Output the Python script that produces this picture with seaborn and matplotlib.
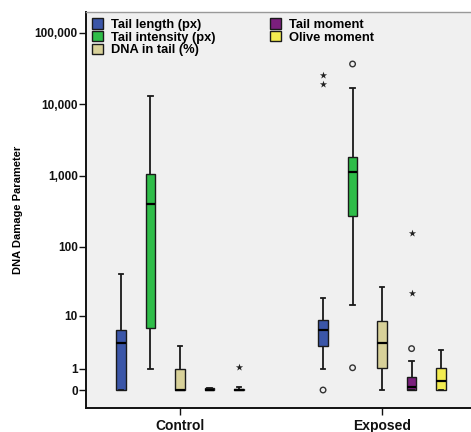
import numpy as np
import pandas as pd
import matplotlib
matplotlib.use("Agg")
import matplotlib.pyplot as plt
import seaborn as sns
from matplotlib.font_manager import FontProperties

plt.rcParams['font.family'] = ['Liberation Sans', 'DejaVu Sans']

groups = ["Control", "Exposed"]
params = ["Tail length (px)", "Tail intensity (px)", "DNA in tail (%)", "Tail moment", "Olive moment"]
colors = ["#3b56a8", "#2fbd49", "#d8d199", "#7b1f7d", "#f3ec50"]

# five-number summaries (whisker low, Q1, median, Q3, whisker high)
control_low = [0, 1.0, 0, 0, 0]
control_q1 = [0, 6.4, 0, 0, 0]
control_median = [3.6, 400, 0, 0, 0]
control_q3 = [5.9, 1060, 1.0, 0.05, 0.03]
control_high = [41, 13200, 3.1, 0.05, 0.1]

exposed_low = [1.0, 14.5, 0, 0, 0]
exposed_q1 = [3.1, 275, 1.05, 0, 0]
exposed_median = [5.9, 1115, 3.6, 0.11, 0.35]
exposed_q3 = [8.5, 1850, 8.3, 0.54, 1.01]
exposed_high = [18.6, 17100, 27, 1.57, 2.63]

outlier_group = ["Control", "Exposed", "Exposed", "Exposed", "Exposed",
                 "Exposed", "Exposed", "Exposed", "Exposed"]
outlier_param = ["Olive moment", "Tail length (px)", "Tail length (px)", "Tail length (px)",
                 "Tail intensity (px)", "Tail intensity (px)", "Tail moment", "Tail moment", "Tail moment"]
outlier_value = [1.1, 0, 26000, 19500, 36800, 1.05, 2.8, 22, 158]
outlier_kind = ["star", "circle", "star", "star", "circle", "circle", "circle", "star", "star"]

y_tick_values = [0, 1, 10, 100, 1000, 10000, 100000]
y_tick_labels = ["0", "1", "10", "100", "1,000", "10,000", "100,000"]


def tr(v):
    return np.log10(np.asarray(v, dtype=float) + 1)


summaries = {
    "Control": (control_low, control_q1, control_median, control_q3, control_high),
    "Exposed": (exposed_low, exposed_q1, exposed_median, exposed_q3, exposed_high),
}
rows = []
for g in groups:
    stats = summaries[g]
    for i, p in enumerate(params):
        for arr in stats:
            rows.append({"group": g, "param": p, "t": float(tr(arr[i]))})
df = pd.DataFrame(rows)

W, H = 471, 432
fig = plt.figure(figsize=(W / 100, H / 100), dpi=100)
ax = fig.add_axes([86 / W, 24 / H, 385 / W, 396 / H])
ax.set_facecolor("#f0f0f0")

box_width = 0.73
sns.boxplot(data=df, x="group", y="t", hue="param", order=groups, hue_order=params,
            palette=colors, saturation=1, width=box_width, gap=0.68, whis=(0, 100),
            showfliers=False, linecolor="#1a1a1a", linewidth=1.0,
            whiskerprops=dict(linewidth=1.3), capprops=dict(linewidth=1.3),
            medianprops=dict(color="black", linewidth=1.6), ax=ax)

slot = box_width / len(params)
ox = np.array([groups.index(g) + (params.index(p) - 2) * slot
               for g, p in zip(outlier_group, outlier_param)])
oy = tr(outlier_value)
kinds = np.array(outlier_kind)
ax.scatter(ox[kinds == "circle"], oy[kinds == "circle"], s=16, facecolors="none",
           edgecolors="#333333", linewidths=1.0, zorder=5)
ax.scatter(ox[kinds == "star"], oy[kinds == "star"], s=30, marker="*",
           color="#222222", linewidths=0, zorder=5)

ax.set_xlim(-0.465, 1.44)
ax.set_ylim(-0.252, 5.294)
ax.set_yticks(tr(y_tick_values))
ax.set_yticklabels(y_tick_labels, fontsize=8.5, fontweight="bold")
ax.set_xticks([0, 1])
ax.set_xticklabels(groups, fontsize=10, fontweight="bold")
ax.tick_params(axis="y", length=5, width=1, pad=1, colors="#111111")
ax.tick_params(axis="x", length=5, width=1, pad=3, colors="#111111")
ax.set_xlabel("")
ax.set_ylabel("DNA Damage Parameter", fontsize=8, fontweight="bold", labelpad=8)

for s in ["left", "bottom"]:
    ax.spines[s].set_linewidth(1.4)
    ax.spines[s].set_color("#111111")
ax.spines["top"].set_color("#999999")
ax.spines["top"].set_linewidth(1.0)
ax.spines["right"].set_visible(False)

handles, labels = ax.get_legend_handles_labels()
leg = ax.legend(handles, labels, loc="upper left", bbox_to_anchor=(0, 1), ncol=2,
                borderaxespad=0, frameon=False,
                prop=FontProperties(family="Liberation Sans", weight="bold", size=9.3),
                handlelength=0.85, handleheight=0.85, labelspacing=0.0,
                columnspacing=4.2, handletextpad=0.6, borderpad=0.5)

fig.savefig("out.png", dpi=100)
